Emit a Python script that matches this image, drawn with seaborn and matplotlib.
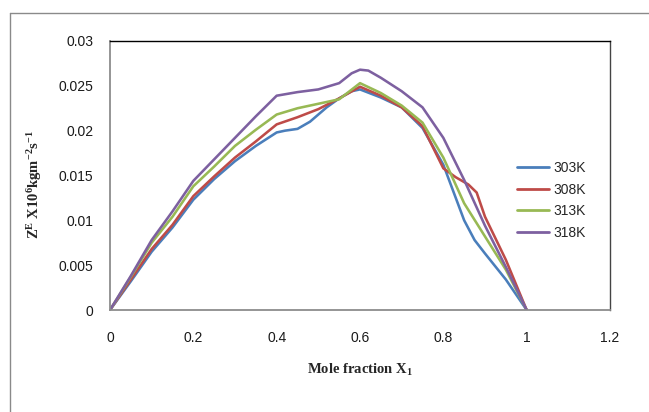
import numpy as np
import pandas as pd
import seaborn as sns
import matplotlib
matplotlib.use("Agg")
import matplotlib.pyplot as plt
from matplotlib.lines import Line2D

# ---- data ----
x_303 = [0, 0.05, 0.1, 0.15, 0.2, 0.25, 0.3, 0.35, 0.4, 0.42, 0.45, 0.48, 0.52, 0.55, 0.58, 0.6, 0.65, 0.7,
         0.75, 0.8, 0.825, 0.85, 0.875, 0.9, 0.95, 1.0]
z_303 = [0, 0.0032, 0.0065, 0.0092, 0.0123, 0.0146, 0.0166, 0.0183, 0.0198, 0.0200, 0.0202, 0.0210, 0.0226,
         0.0236, 0.0244, 0.0246, 0.0237, 0.0226, 0.0203, 0.0162, 0.0131, 0.0100, 0.0078, 0.0063, 0.0034, 0]

x_308 = [0, 0.05, 0.1, 0.15, 0.2, 0.25, 0.3, 0.35, 0.4, 0.45, 0.5, 0.55, 0.6, 0.65, 0.7, 0.75, 0.8, 0.83,
         0.86, 0.88, 0.9, 0.95, 1.0]
z_308 = [0, 0.0034, 0.0068, 0.0095, 0.0127, 0.0149, 0.0170, 0.0188, 0.0207, 0.0215, 0.0224, 0.0236, 0.0249,
         0.0239, 0.0226, 0.0205, 0.0158, 0.0148, 0.0140, 0.0131, 0.0104, 0.0056, 0]

x_313 = [0, 0.05, 0.1, 0.15, 0.2, 0.25, 0.3, 0.35, 0.4, 0.45, 0.5, 0.55, 0.6, 0.65, 0.7, 0.75, 0.8, 0.85,
         0.9, 0.95, 1.0]
z_313 = [0, 0.0037, 0.0075, 0.0104, 0.0138, 0.0160, 0.0183, 0.0201, 0.0218, 0.0225, 0.0230, 0.0235, 0.0253,
         0.0242, 0.0228, 0.0209, 0.0170, 0.0119, 0.0082, 0.0045, 0]

x_318 = [0, 0.05, 0.1, 0.15, 0.2, 0.25, 0.3, 0.35, 0.4, 0.45, 0.5, 0.55, 0.58, 0.6, 0.62, 0.65, 0.7, 0.75,
         0.8, 0.85, 0.9, 0.95, 1.0]
z_318 = [0, 0.0038, 0.0078, 0.0110, 0.0144, 0.0168, 0.0192, 0.0216, 0.0239, 0.0243, 0.0246, 0.0253, 0.0264,
         0.0268, 0.0267, 0.0259, 0.0244, 0.0226, 0.0192, 0.0145, 0.0094, 0.0048, 0]

series_names = ["303K", "308K", "313K", "318K"]
colors = ["#4A7EBB", "#BE4B48", "#98B954", "#7D60A0"]

x_ticks = [0, 0.2, 0.4, 0.6, 0.8, 1.0, 1.2]
x_tick_labels = ["0", "0.2", "0.4", "0.6", "0.8", "1", "1.2"]
y_ticks = [0, 0.005, 0.01, 0.015, 0.02, 0.025, 0.03]
y_tick_labels = ["0", "0.005", "0.01", "0.015", "0.02", "0.025", "0.03"]

frames = []
for name, xs, zs in zip(series_names, [x_303, x_308, x_313, x_318], [z_303, z_308, z_313, z_318]):
    frames.append(pd.DataFrame({"x": xs, "z": zs, "T": name}))
df = pd.concat(frames, ignore_index=True)

# ---- figure ----
sns.set_style("white")
plt.rcParams["font.family"] = ["Liberation Sans", "DejaVu Sans"]
plt.rcParams["mathtext.default"] = "regular"

W, H = 649, 412
fig = plt.figure(figsize=(W / 100, H / 100), dpi=100)
ax = fig.add_axes([110 / W, 1 - 310 / H, 500 / W, 269 / H])

sns.lineplot(data=df, x="x", y="z", hue="T", palette=dict(zip(series_names, colors)),
             sort=False, estimator=None, linewidth=1.85, ax=ax)
for ln in ax.get_lines():
    ln.set_solid_joinstyle("round")
    ln.set_solid_capstyle("round")

ax.set_xlim(0, 1.2)
ax.set_ylim(0, 0.03)
ax.set_xticks(x_ticks)
ax.set_xticklabels(x_tick_labels)
ax.set_yticks(y_ticks)
ax.set_yticklabels(y_tick_labels)
ax.tick_params(axis="both", direction="out", width=0.8, color="#868686",
               labelsize=10, labelcolor="#1a1a1a")
ax.tick_params(axis="x", length=4, pad=11)
ax.tick_params(axis="y", length=5, pad=7)

for side in ["left", "bottom"]:
    ax.spines[side].set_color("#8c8c8c")
    ax.spines[side].set_linewidth(1.3)
ax.spines["top"].set_color("black")
ax.spines["top"].set_linewidth(1.0)
ax.spines["right"].set_color("#444444")
ax.spines["right"].set_linewidth(1.0)

ax.set_xlabel("Mole fraction X$_1$", fontfamily="Liberation Serif", fontweight="bold",
              fontsize=10.5, labelpad=12)
ax.set_ylabel("")
fig.text(35 / W, 1 - 185 / H, "Z$^{E}$ X10$^{6}$kgm$^{-2}$s$^{-1}$", rotation=90,
         ha="center", va="center", fontfamily="Liberation Serif", fontweight="bold",
         fontsize=10.5)

leg = ax.legend(loc="center left", bbox_to_anchor=(517 / W, 1 - 200.5 / H),
                bbox_transform=fig.transFigure, frameon=False, fontsize=10,
                handlelength=2.3, handletextpad=0.3, labelspacing=0.55, borderpad=0,
                borderaxespad=0)
for h in leg.get_lines():
    h.set_linewidth(2.0)

# outer chart border (top and left visible)
fig.add_artist(Line2D([9.5 / W, 1.0], [1 - 12.5 / H, 1 - 12.5 / H], transform=fig.transFigure,
                      color="#8a8a8a", linewidth=1.0))
fig.add_artist(Line2D([9.5 / W, 9.5 / W], [0, 1 - 12.5 / H], transform=fig.transFigure,
                      color="#8a8a8a", linewidth=1.0))

fig.savefig("out.png", dpi=100)
